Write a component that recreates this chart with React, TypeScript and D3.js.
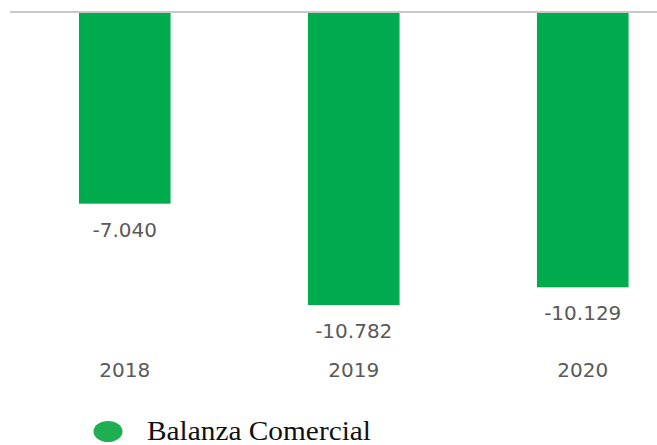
import React from "react";
import * as d3 from "d3";

const years = ["2018", "2019", "2020"];
const values = [-7040, -10782, -10129];
const valueLabels = ["-7.040", "-10.782", "-10.129"];
const legendLabel = "Balanza Comercial";

const W = 657;
const H = 445;
const GREEN = "#00ab4e";

export default function App() {
  const x = d3.scaleBand<string>().domain(years).range([10.25, 697.25]).paddingInner(0.6).paddingOuter(0.3);
  const y = d3.scaleLinear().domain([0, -10782]).range([13, 305]);

  return (
    <svg width={W} height={H} style={{ position: "absolute", left: 0, top: 0, background: "#fff" }}>
      {years.map((yr, i) => {
        const bx = x(yr) as number;
        const bw = x.bandwidth();
        const y0 = y(0);
        const y1 = y(values[i]);
        return (
          <g key={yr}>
            <rect x={bx} y={y0} width={bw} height={y1 - y0} fill={GREEN} />
            <text
              x={bx + bw / 2}
              y={y1 + 33}
              textAnchor="middle"
              fontFamily="DejaVu Sans"
              fontSize={20}
              fill="#595959"
            >
              {valueLabels[i]}
            </text>
            <text
              x={bx + bw / 2}
              y={377}
              textAnchor="middle"
              fontFamily="DejaVu Sans"
              fontSize={20}
              fill="#595959"
            >
              {yr}
            </text>
          </g>
        );
      })}
      <line x1={10} x2={W} y1={12} y2={12} stroke="#c8c8c8" strokeWidth={2} />
      <ellipse cx={108} cy={431.5} rx={14.5} ry={10.5} fill="#1fae50" />
      <text
        x={147}
        y={440}
        fontFamily="Liberation Serif"
        fontSize={28}
        textLength={224}
        lengthAdjust="spacingAndGlyphs"
        fill="#111"
      >
        {legendLabel}
      </text>
    </svg>
  );
}
